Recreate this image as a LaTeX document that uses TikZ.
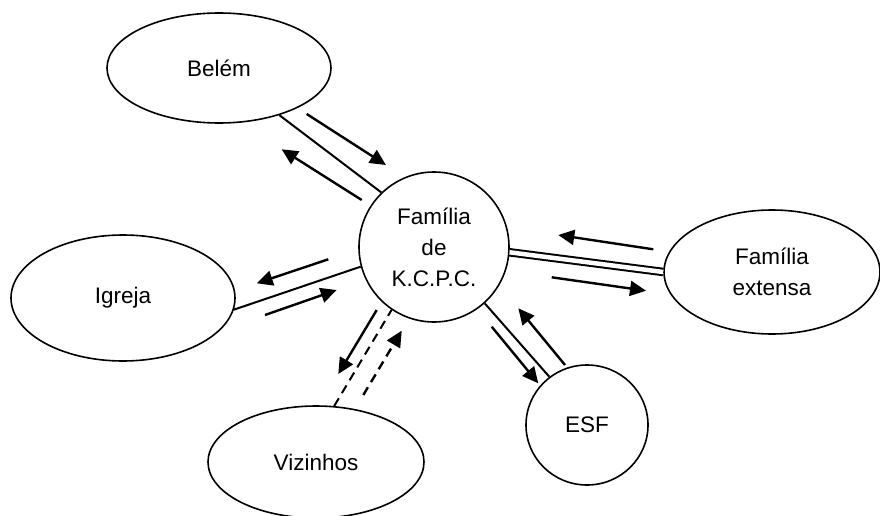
\documentclass[tikz,border=0pt]{standalone}
\usepackage{fontspec}
\setmainfont{Liberation Sans}
\usetikzlibrary{shapes.geometric,arrows.meta}
\begin{document}
\begin{tikzpicture}[x=1pt,y=-1pt,
  oval/.style={draw,line width=1.6pt,ellipse,inner sep=0pt,align=center,font=\fontsize{22.5}{31}\selectfont},
  hub/.style={draw,line width=1.6pt,circle,inner sep=0pt,align=center,font=\fontsize{22.5}{31}\selectfont},
  link/.style={line width=2pt},
  twin/.style={double,line width=2pt,double distance=4.5pt},
  dashlink/.style={line width=2pt,dash pattern=on 9pt off 6pt},
  flow/.style={line width=2.4pt,-{Triangle[length=16pt,width=15pt]}},
  dflow/.style={flow,dash pattern=on 9pt off 6pt}]
\useasboundingbox (0,0) rectangle (880,516);

% central family and its surroundings
\node[hub,minimum size=150pt] (kcpc) at (434,247) {Família\\de\\K.C.P.C.};
\node[oval,minimum width=224pt,minimum height=110pt] (belem) at (219,68) {Belém};
\node[oval,minimum width=224pt,minimum height=126pt] (igreja) at (123,298) {Igreja};
\node[oval,minimum width=216pt,minimum height=112pt] (vizinhos) at (316,462) {Vizinhos};
\node[oval,minimum width=122pt,minimum height=120pt] (esf) at (587,425) {ESF};
\node[oval,minimum width=216pt,minimum height=124pt] (extensa) at (772,272) {Família\\extensa};

% connecting lines
\draw[link] (belem.-38) -- (kcpc.134);
\draw[link] (igreja.-6) -- (kcpc.195);
\draw[dashlink] (vizinhos.72) -- (kcpc.236);
\draw[link] (esf.128) -- (kcpc.-48);
\draw[twin] (kcpc.-4) -- (extensa.west);

% exchange arrows
\coordinate (b1s) at (306.7,114); \coordinate (b1e) at (386,165);
\coordinate (b2s) at (361.7,200); \coordinate (b2e) at (281.7,149.3);
\coordinate (x1s) at (653.3,249.3); \coordinate (x1e) at (558.3,235);
\coordinate (x2s) at (551.7,277.3); \coordinate (x2e) at (646,290.7);
\coordinate (i1s) at (328.3,259.3); \coordinate (i1e) at (256.7,283.3);
\coordinate (i2s) at (265,315); \coordinate (i2e) at (336.7,290);
\coordinate (v1s) at (376.7,310); \coordinate (v1e) at (338.3,374);
\coordinate (v2s) at (363.3,395); \coordinate (v2e) at (401.7,330.7);
\coordinate (e1s) at (491.7,326.7); \coordinate (e1e) at (538.3,383.3);
\coordinate (e2s) at (565,365); \coordinate (e2e) at (518.3,308.3);

\draw[flow] (b1s) -- (b1e);
\draw[flow] (b2s) -- (b2e);
\draw[flow] (x1s) -- (x1e);
\draw[flow] (x2s) -- (x2e);
\draw[flow] (i1s) -- (i1e);
\draw[flow] (i2s) -- (i2e);
\draw[flow] (v1s) -- (v1e);
\draw[dflow] (v2s) -- (v2e);
\draw[flow] (e1s) -- (e1e);
\draw[flow] (e2s) -- (e2e);
\end{tikzpicture}
\end{document}
